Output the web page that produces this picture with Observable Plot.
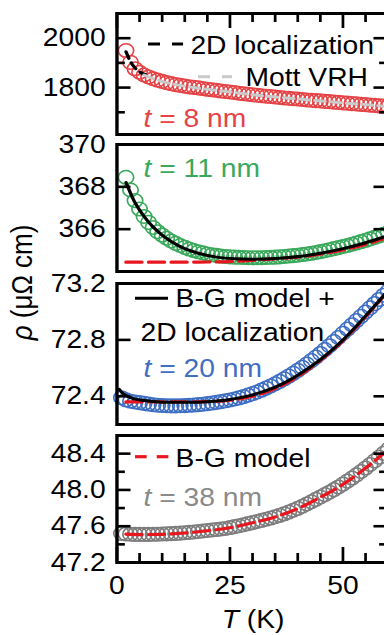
<!DOCTYPE html>
<html><head><meta charset="utf-8">
<script src="https://cdn.jsdelivr.net/npm/d3@7"></script>
<script src="https://cdn.jsdelivr.net/npm/@observablehq/plot@0.6"></script>
<style>
html,body{margin:0;padding:0;background:#fff;overflow:hidden;width:384px;height:635px}
#fig{position:relative;width:347px;height:635px;transform:scaleX(1.13);transform-origin:0 0}
#fig svg{position:absolute;left:0;overflow:visible}
</style></head><body><div id="fig"></div>
<script>
// ---------- data ----------
const tempA = [2,3,4,5,6,7,8,9,10,11,12,13,14,15,16,17,18,19,20,21,22,23,24,25,26,27,28,29,30,31,32,33,34,35,36,37,38,39,40,41,42,43,44,45,46,47,48,49,50,51,52,53,54,55,56,57,58,59,60];
const tempB = [1,2,3,4,5,6,7,8,9,10,11,12,13,14,15,16,17,18,19,20,21,22,23,24,25,26,27,28,29,30,31,32,33,34,35,36,37,38,39,40,41,42,43,44,45,46,47,48,49,50,51,52,53,54,55,56,57,58,59,60];

// t = 8 nm
const rho8 = [1950,1902,1876,1862,1851,1843,1836,1830,1825,1820,1816,1812,1809,1806,1803,1801,1799,1796,1793,1791,1789,1786,1784,1782,1780,1777,1775,1773,1771,1769,1767,1765,1764,1762,1760,1758,1757,1755,1754,1752,1750,1749,1747,1746,1744,1743,1741,1740,1738,1737,1735,1734,1732,1731,1729,1728,1726,1725,1723];
const loc8T = [2,3,4,5,6.3];
const loc8 = [1945,1905,1880,1864,1852];
const vrh8T = [6,8,10,13,16,20,25,30,35,40,45,50,55,60];
const vrh8 = [1851,1836,1825,1812,1803,1793,1782,1771,1762,1754,1746,1738,1731,1723];

// t = 11 nm
const rho11 = [368.45,367.85,367.35,366.95,366.6,366.32,366.08,365.88,365.72,365.57,365.44,365.33,365.23,365.14,365.06,364.99,364.93,364.88,364.83,364.79,364.76,364.73,364.71,364.69,364.68,364.67,364.66,364.65,364.65,364.65,364.65,364.66,364.67,364.68,364.69,364.71,364.73,364.75,364.77,364.8,364.83,364.86,364.9,364.94,364.98,365.03,365.08,365.13,365.18,365.23,365.29,365.35,365.41,365.47,365.54,365.61,365.68,365.76,365.84];
const fit11T = [2,3,4,5,6,8,10,12,15,18,22,26,30,34,38,42,46,50,54,58,60];
const fit11 = [368.2,367.7,367.25,366.9,366.6,366.1,365.72,365.42,365.08,364.86,364.68,364.6,364.58,364.6,364.66,364.76,364.9,365.08,365.3,365.56,365.7];
const bg11T = [2,10,20,25,30,35,40,45,50,55,60];
const bg11 = [364.44,364.44,364.45,364.47,364.53,364.6,364.68,364.82,365.02,365.28,365.62];

// t = 20 nm
const rho20 = [72.39,72.375,72.365,72.36,72.355,72.35,72.345,72.34,72.337,72.335,72.333,72.332,72.332,72.333,72.334,72.336,72.338,72.341,72.344,72.348,72.352,72.357,72.362,72.368,72.374,72.381,72.389,72.398,72.408,72.419,72.431,72.444,72.458,72.473,72.489,72.506,72.524,72.543,72.563,72.584,72.606,72.629,72.653,72.678,72.704,72.731,72.759,72.788,72.817,72.847,72.877,72.907,72.937,72.967,72.997,73.027,73.057,73.087,73.117,73.147];
const fit20T = [0.5,1,2,3,4,6,8,12,16,20,25,30,35,40,45,50,55,60];
const fit20 = [72.45,72.43,72.405,72.39,72.38,72.37,72.363,72.357,72.357,72.362,72.378,72.41,72.465,72.55,72.66,72.8,72.97,73.15];
const bg20T = [2,10,20,25,30,35,40,45,50,55,60];
const bg20 = [72.36,72.36,72.362,72.372,72.4,72.455,72.54,72.655,72.795,72.965,73.145];

// t = 38 nm
const rho38 = [47.52,47.515,47.512,47.51,47.51,47.51,47.51,47.511,47.512,47.514,47.516,47.518,47.521,47.524,47.528,47.532,47.537,47.542,47.547,47.553,47.558,47.563,47.569,47.575,47.585,47.595,47.605,47.616,47.628,47.64,47.652,47.664,47.677,47.69,47.704,47.72,47.737,47.756,47.776,47.797,47.82,47.845,47.87,47.896,47.922,47.948,47.975,48.003,48.033,48.064,48.097,48.131,48.166,48.203,48.241,48.28,48.32,48.361,48.403,48.446];
const bg38T = [2,5,10,15,20,25,30,35,40,45,50,55,60];
const bg38 = [47.512,47.508,47.511,47.525,47.55,47.583,47.638,47.702,47.795,47.92,48.062,48.24,48.445];

// ticks
const xLabels = [0,25,50];
const xMajor = [0,25,50];
const xMinor = [5,10,15,20,30,35,40,45,55];
const p1Labels = [1800,2000], p1Major = [1800,2000], p1Minor = [1700,1900];
const p2Labels = [366,368,370], p2Major = [366,368], p2Minor = [];
const p3Labels = [72.4,72.8,73.2], p3Major = [72.4,72.8], p3Minor = [];
const p4Labels = [47.2,47.6,48.0,48.4], p4Major = [47.6,48.0,48.4], p4Minor = [47.4,47.8,48.2];

// ---------- style ----------
const FONT = "'Liberation Sans', Arial, Helvetica, sans-serif";
const FS = 25;
const W = 347, ML = 103, MR = 4, PW = W - ML - MR;
const YMAJ = 12.5, YMIN = 7.5, XMAJ = 15, XMIN = 9;
const RED = "#e54346", GREEN = "#3aa95c", BLUE = "#3f6fc2", GRAY = "#7d7d7d";
const REDLINE = "#e8161f";
const fig = document.getElementById("fig");

const pts = (T, V) => T.map((t, i) => ({T: t, v: V[i]}));

function panel({top, h, domain, labels, major, minor, fmt, marks, texts, topTicks = false, bottomAxis = false, mb = 0}) {
  const m = [...marks];
  for (const [vals, len] of [[major, YMAJ], [minor, YMIN]]) {
    if (!vals.length) continue;
    m.push(Plot.tickY(vals, {y: d => d, insetRight: PW - len, stroke: "black", strokeWidth: 2.6}));
    m.push(Plot.tickY(vals, {y: d => d, insetLeft: PW - len, stroke: "black", strokeWidth: 2.6}));
  }
  if (topTicks) {
    m.push(Plot.tickX(xMajor, {x: d => d, insetBottom: h - XMAJ, stroke: "black", strokeWidth: 2.4}));
    m.push(Plot.tickX(xMinor, {x: d => d, insetBottom: h - XMIN, stroke: "black", strokeWidth: 2.4}));
  }
  if (bottomAxis) {
    m.push(Plot.tickX(xMajor, {x: d => d, insetTop: h - XMAJ, stroke: "black", strokeWidth: 2.4}));
    m.push(Plot.tickX(xMinor, {x: d => d, insetTop: h - XMIN, stroke: "black", strokeWidth: 2.4}));
    m.push(Plot.axisX({ticks: xLabels, tickSize: 0, tickPadding: 14, fontSize: FS, label: null}));
  }
  m.push(Plot.axisY({ticks: labels, tickSize: 0, tickPadding: 10, tickFormat: fmt, fontSize: FS, label: null}));
  m.push(Plot.frame({stroke: "black", strokeWidth: 3}));
  for (const t of texts) m.push(t);
  const svg = Plot.plot({
    width: W, height: h + mb,
    marginLeft: ML, marginRight: MR, marginTop: 0, marginBottom: mb,
    style: {fontFamily: FONT, fontSize: FS + "px", background: "transparent", overflow: "visible"},
    x: {domain: [0, 60], axis: null},
    y: {domain, axis: null},
    marks: m
  });
  svg.style.top = top + "px";
  fig.appendChild(svg);
  return svg;
}

function label(str, dx, dy, fill = "black", extra = {}) {
  return Plot.text([str], {text: d => d, frameAnchor: "top-left", dx: dx - ML, dy, textAnchor: "start", lineAnchor: "bottom", fill, fontSize: FS, ...extra});
}

function sample(svg, segs, y, color, width) {
  const g = d3.select(svg).append("g");
  for (const [a, b] of segs) {
    g.append("line").attr("x1", a).attr("x2", b).attr("y1", y).attr("y2", y)
      .attr("stroke", color).attr("stroke-width", width);
  }
}

function italicize(svg) {
  d3.select(svg).selectAll("text").each(function () {
    const s = this.textContent;
    let p = null;
    if (s.startsWith("t = ")) p = "t";
    else if (s.startsWith("T (")) p = "T";
    else if (s.startsWith("ρ")) p = "ρ";
    if (!p) return;
    this.textContent = "";
    d3.select(this).append("tspan").attr("font-style", "italic").text(p);
    d3.select(this).append("tspan").text(s.slice(p.length));
  });
}

const dotOpts = (color) => ({x: "T", y: "v", r: 6.8, stroke: color, strokeWidth: 1.5, fill: "none"});

// Panel 1: t = 8 nm
const s1 = panel({
  top: 13, h: 121, domain: [1610, 2100], labels: p1Labels, major: p1Major, minor: p1Minor, fmt: d3.format("d"), topTicks: true,
  marks: [
    Plot.dot(pts(tempA, rho8), dotOpts(RED)),
    Plot.line(pts(loc8T, loc8), {x: "T", y: "v", stroke: "black", strokeWidth: 3, strokeDasharray: "7,5", curve: "monotone-x"}),
    Plot.line(pts(vrh8T, vrh8), {x: "T", y: "v", stroke: "#c9c9c9", strokeWidth: 3, strokeDasharray: "9,5", curve: "monotone-x"})
  ],
  texts: [
    label("2D localization", 168, 40.5),
    label("Mott VRH", 216.8, 72),
    label("t = 8 nm", 126.5, 113.5, RED)
  ]
});
sample(s1, [[131, 141.6], [152.2, 162]], 31, "black", 3);
sample(s1, [[175.2, 185.8], [196.5, 205.3]], 63.7, "#c9c9c9", 3);

// Panel 2: t = 11 nm
const s2 = panel({
  top: 144, h: 127, domain: [364, 370], labels: p2Labels, major: p2Major, minor: p2Minor, fmt: d3.format("d"),
  marks: [
    Plot.dot(pts(tempA, rho11), dotOpts(GREEN)),
    Plot.line(pts(bg11T, bg11), {x: "T", y: "v", stroke: REDLINE, strokeWidth: 3.2, strokeDasharray: "14,6", curve: "monotone-x"}),
    Plot.line(pts(fit11T, fit11), {x: "T", y: "v", stroke: "black", strokeWidth: 3, curve: "monotone-x"})
  ],
  texts: [label("t = 11 nm", 126.5, 32, GREEN)]
});

// Panel 3: t = 20 nm
const s3 = panel({
  top: 283, h: 141, domain: [72.2, 73.2], labels: p3Labels, major: p3Major, minor: p3Minor, fmt: d3.format(".1f"),
  marks: [
    Plot.dot(pts(tempB, rho20), dotOpts(BLUE)),
    Plot.line(pts(bg20T, bg20), {x: "T", y: "v", stroke: REDLINE, strokeWidth: 3.2, strokeDasharray: "14,6", curve: "monotone-x"}),
    Plot.line(pts(fit20T, fit20), {x: "T", y: "v", stroke: "black", strokeWidth: 3, curve: "monotone-x"})
  ],
  texts: [
    label("B-G model +", 154.9, 23.7),
    label("2D localization", 123.9, 57),
    label("t = 20 nm", 126.5, 93.7, BLUE),
    Plot.text(["ρ (μΩ cm)"], {text: d => d, frameAnchor: "left", rotate: -90, dx: 19.5 - ML, dy: -1 - 70.5, textAnchor: "middle", lineAnchor: "middle", fontSize: 26})
  ]
});
sample(s3, [[119.5, 148.7]], 15.3, "black", 3);

// Panel 4: t = 38 nm
const s4 = panel({
  top: 435, h: 127, domain: [47.2, 48.6], labels: p4Labels, major: p4Major, minor: p4Minor, fmt: d3.format(".1f"), bottomAxis: true, mb: 73,
  marks: [
    Plot.dot(pts(tempB, rho38), dotOpts(GRAY)),
    Plot.line(pts(bg38T, bg38), {x: "T", y: "v", stroke: REDLINE, strokeWidth: 3.2, strokeDasharray: "14,6", curve: "monotone-x"})
  ],
  texts: [
    label("B-G model", 154.9, 31),
    label("t = 38 nm", 126.5, 70, "#8a8a8a"),
    Plot.text(["T (K)"], {text: d => d, frameAnchor: "bottom", dx: 0.5, dy: 65, textAnchor: "middle", lineAnchor: "bottom", fontSize: FS})
  ]
});
sample(s4, [[119.5, 129.8], [138.7, 149]], 21.7, REDLINE, 3.2);

for (const s of [s1, s2, s3, s4]) italicize(s);
</script></body></html>
